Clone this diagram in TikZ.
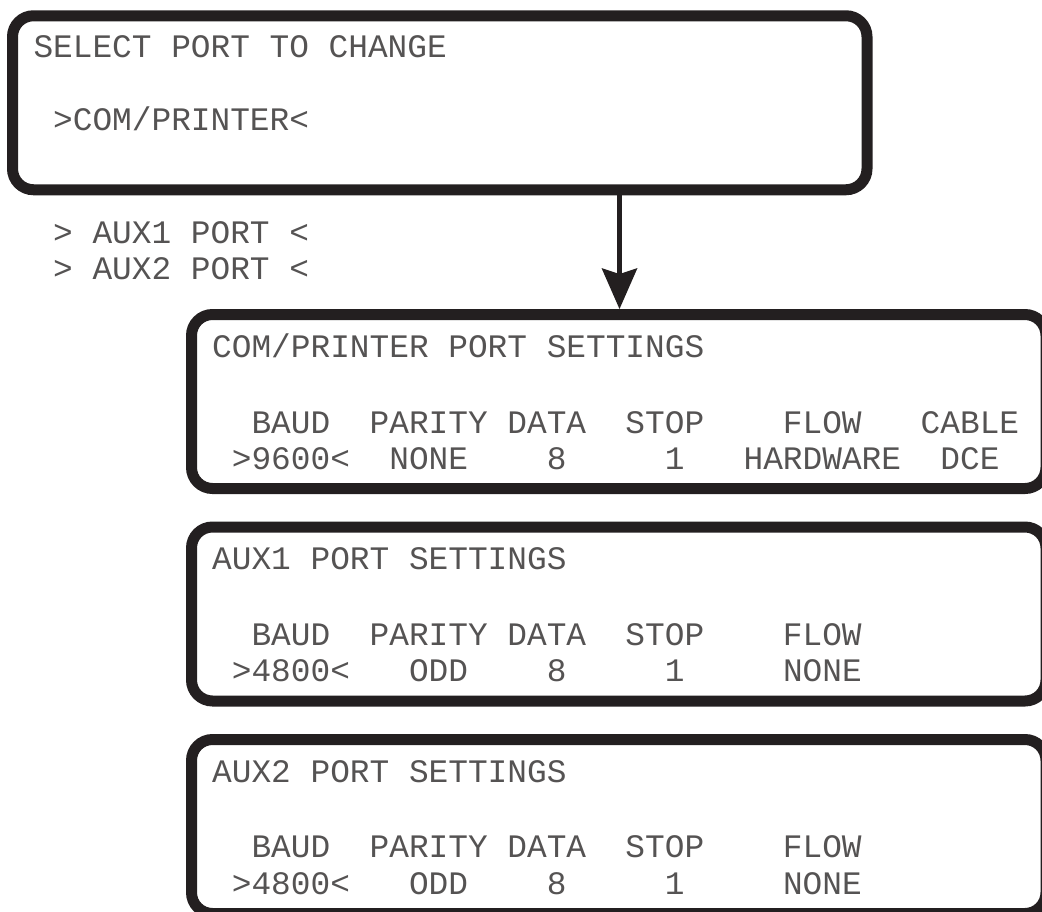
\documentclass[tikz,border=0pt]{standalone}
\usepackage{fontspec}
\newfontfamily\lcdfont{Liberation Mono}
\usetikzlibrary{arrows.meta}
\definecolor{ink}{RGB}{35,31,32}
\definecolor{dots}{RGB}{85,83,83}
\tikzset{
  lcd/.style={draw=ink,line width=11pt,rounded corners=21pt,minimum width=854.5pt,minimum height=174pt,inner sep=0pt},
  lcdrow/.style={anchor=base west,inner sep=0pt,text=dots,font=\lcdfont\fontsize{32.8}{36}\selectfont},
  drop arrow/.style={color=ink,line width=5pt,-{Stealth[length=41pt,width=36pt,inset=6pt,line width=0pt]}}
}
\begin{document}
\begin{tikzpicture}[x=1pt,y=-1pt]
  \clip (0,0) rectangle (1042,911);
  % the four screens
  \node[lcd] (selbox) at (439.75,102.75) {};
  \node[lcd] (combox) at (618.75,401.5) {};
  \node[lcd] (aux1box) at (618.75,614) {};
  \node[lcd] (aux2box) at (618.75,826.5) {};
  % port menu
  \node[lcdrow] (seltitle) at (33.3,57) {SELECT~PORT~TO~CHANGE};
  \node[lcdrow] (selcom) at (33.3,130) {~>COM/PRINTER<};
  \node[lcdrow] (selaux1) at (33.3,243) {~>~AUX1~PORT~<};
  \node[lcdrow] (selaux2) at (33.3,279) {~>~AUX2~PORT~<};
  % com/printer settings
  \node[lcdrow] (comtitle) at (212,357) {COM/PRINTER~PORT~SETTINGS};
  \node[lcdrow] (comhead) at (212,433) {~~BAUD~~PARITY~DATA~~STOP~~~~FLOW~~~CABLE};
  \node[lcdrow] (comvals) at (212,469) {~>9600<~~NONE~~~~8~~~~~1~~~HARDWARE~~DCE};
  % aux1 settings
  \node[lcdrow] (aux1title) at (212,569.5) {AUX1~PORT~SETTINGS};
  \node[lcdrow] (aux1head) at (212,645) {~~BAUD~~PARITY~DATA~~STOP~~~~FLOW};
  \node[lcdrow] (aux1vals) at (212,681.5) {~>4800<~~~ODD~~~~8~~~~~1~~~~~NONE};
  % aux2 settings
  \node[lcdrow] (aux2title) at (212,782) {AUX2~PORT~SETTINGS};
  \node[lcdrow] (aux2head) at (212,857.5) {~~BAUD~~PARITY~DATA~~STOP~~~~FLOW};
  \node[lcdrow] (aux2vals) at (212,894) {~>4800<~~~ODD~~~~8~~~~~1~~~~~NONE};
  % selection arrow
  \coordinate (drop) at (619.5,0);
  \draw[drop arrow] (selbox.south -| drop) -- (combox.north -| drop);
\end{tikzpicture}
\end{document}
